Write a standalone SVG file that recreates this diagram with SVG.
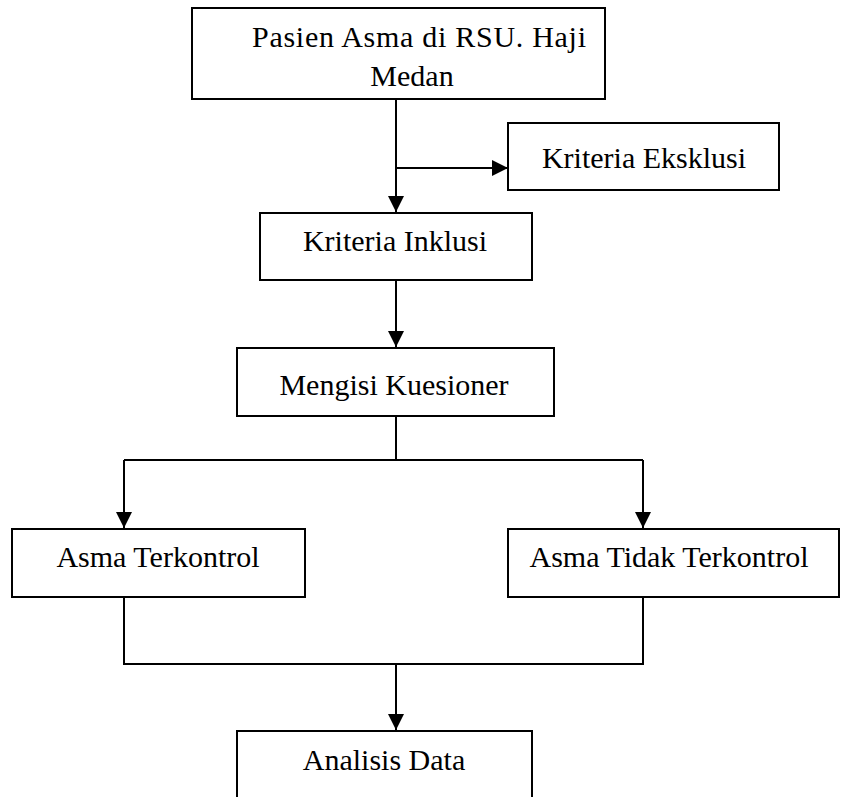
<svg xmlns="http://www.w3.org/2000/svg" width="841" height="797" viewBox="0 0 841 797">
<style>
.box{fill:#fff;stroke:#000;stroke-width:2}
.lbl{font-family:"Liberation Serif","Times New Roman",serif;font-size:30px;fill:#000;text-anchor:middle}
.ln{fill:none;stroke:#000;stroke-width:2}
</style>
<defs>
<marker id="arr" markerUnits="userSpaceOnUse" markerWidth="16" markerHeight="16" viewBox="0 0 14 14" refX="14" refY="7" orient="auto">
<path d="M0,0 L14,7 L0,14 Z" fill="#000"/>
</marker>
</defs>
<rect width="841" height="797" fill="#fff"/>
<g id="connectors">
<path class="ln" d="M396,99 V212" marker-end="url(#arr)"/>
<path class="ln" d="M396,168 H508" marker-end="url(#arr)"/>
<path class="ln" d="M396,280 V347" marker-end="url(#arr)"/>
<path class="ln" d="M396,416 V460"/>
<path class="ln" d="M124,460 H643"/>
<path class="ln" d="M124,460 V528" marker-end="url(#arr)"/>
<path class="ln" d="M643,460 V528" marker-end="url(#arr)"/>
<path class="ln" d="M124,597 V664 H643 V597"/>
<path class="ln" d="M396,664 V730" marker-end="url(#arr)"/>
</g>
<g id="node-pasien">
<rect class="box" x="192" y="8" width="413" height="91"/>
<text class="lbl" x="419" y="47" textLength="334" lengthAdjust="spacing">Pasien Asma di RSU. Haji</text>
<text class="lbl" x="412" y="86">Medan</text>
</g>
<g id="node-eksklusi">
<rect class="box" x="508" y="123" width="271" height="67"/>
<text class="lbl" x="644" y="168">Kriteria Eksklusi</text>
</g>
<g id="node-inklusi">
<rect class="box" x="260" y="213" width="272" height="67"/>
<text class="lbl" x="395" y="251">Kriteria Inklusi</text>
</g>
<g id="node-kuesioner">
<rect class="box" x="237" y="348" width="317" height="68"/>
<text class="lbl" x="394" y="395">Mengisi Kuesioner</text>
</g>
<g id="node-terkontrol">
<rect class="box" x="12" y="529" width="293" height="68"/>
<text class="lbl" x="158" y="567">Asma Terkontrol</text>
</g>
<g id="node-tidak">
<rect class="box" x="508" y="529" width="331" height="68"/>
<text class="lbl" x="669" y="567">Asma Tidak Terkontrol</text>
</g>
<g id="node-analisis">
<rect class="box" x="237" y="731" width="295" height="80"/>
<text class="lbl" x="384" y="770">Analisis Data</text>
</g>
</svg>
